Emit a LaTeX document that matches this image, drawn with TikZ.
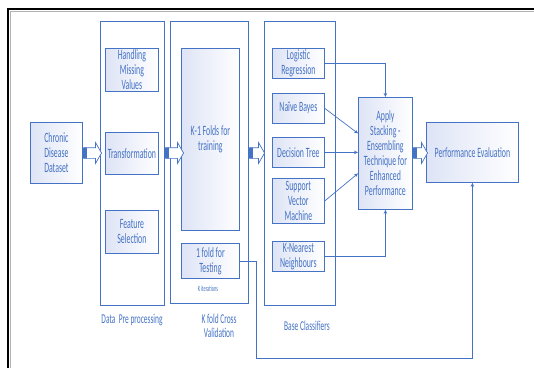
\documentclass[tikz,border=0pt]{standalone}
\usepackage{fontspec}
\setmainfont{Carlito}[FakeStretch=0.55]
\usetikzlibrary{positioning,shapes.arrows,arrows.meta}
\definecolor{officeblue}{RGB}{68,114,196}
\definecolor{boxshade}{RGB}{222,228,246}

\begin{document}
\begin{tikzpicture}[x=1pt,y=-1pt,
  every node/.style={font=\fontsize{14.2}{15}\selectfont,text=officeblue,align=center},
  wh/.style 2 args={minimum width=#1pt,minimum height=#2pt},
  panel/.style={draw=officeblue,line width=0.8pt,fill=white,anchor=north west,inner sep=0pt},
  box/.style={draw=officeblue,line width=0.8pt,left color=boxshade,right color=white,anchor=north west,inner sep=1pt},
  caption/.style={font=\fontsize{13.5}{14.5}\selectfont},
  blockarrow/.style={single arrow,draw=officeblue,fill=white,line width=0.7pt,inner sep=5pt,
    single arrow head extend=5pt,single arrow tip angle=120,
    path picture={\fill[officeblue] (path picture bounding box.south west) rectangle ([xshift=3pt]path picture bounding box.north west);}},
  link/.style={draw=officeblue,line width=0.7pt,-{Stealth[length=4pt,width=3.5pt]}}
]
  \useasboundingbox (0,0) rectangle (534,367);
  % page frame
  \draw[line width=2pt] (8,375) -- (8,9) -- (540,9);
  \draw[gray!60,line width=0.6pt] (10.5,375) -- (10.5,11.5) -- (540,11.5);

  % input
  \node[box,wh={52}{61}] (data) at (30,122) {Chronic\\Disease\\Dataset};

  % pre processing
  \node[panel,wh={64}{284}] (prep) at (100,21) {};
  \node[box,wh={53}{43}] (missing) at (105,48) {Handling\\Missing\\Values};
  \node[box,wh={53}{42}] (transf) at (105,132) {Transformation};
  \node[box,wh={53}{43}] (feat) at (105,210) {Feature\\Selection};
  \node[caption] (preplbl) at (132,320) {Data\ \ Pre processing};

  % cross validation
  \node[panel,wh={78}{282}] (cv) at (170,21) {};
  \node[box,wh={58}{182}] (train) at (181,48) {K-1 Folds for\\training};
  \node[box,wh={58}{35}] (test) at (181,243) {1 fold for\\Testing};
  \node[font=\fontsize{8}{9}\selectfont] (kiter) at (208,289) {K iterations};
  \node[caption] (cvlbl) at (219,326) {K fold Cross\\Validation};

  % base classifiers
  \node[panel,wh={71}{284}] (base) at (264,21) {};
  \node[box,wh={52}{30}] (lr) at (272,48) {Logistic\\Regression};
  \node[box,wh={52}{30}] (nb) at (272,93) {Naïve Bayes};
  \node[box,wh={52}{30}] (dt) at (272,137) {Decision Tree};
  \node[box,wh={52}{45}] (svm) at (272,178) {Support\\Vector\\Machine};
  \node[box,wh={52}{30}] (knn) at (272,241) {K-Nearest\\Neighbours};
  \node[caption] (baselbl) at (307,326) {Base Classifiers};

  % ensemble and evaluation
  \node[box,wh={54}{112}] (stack) at (358,97) {Apply\\Stacking -\\Ensembling\\Technique for\\Enhanced\\Performance};
  \node[box,wh={92}{60}] (perf) at (426,122) {Performance Evaluation};

  % block arrows between stages
  \node[blockarrow,minimum height=18pt] (a1) at (91,153) {};
  \node[blockarrow,minimum height=18pt] (a2) at (173,153) {};
  \node[blockarrow,minimum height=15pt] (a3) at (255.5,153) {};
  \node[blockarrow,minimum height=14pt] (a4) at (419,153) {};

  % classifier outputs
  \draw[link] (lr.east) -| (stack.north);
  \draw[link] (nb.east) -- ([yshift=20pt]stack.west);
  \draw[link] (dt.east) -- (dt.east -| stack.west);
  \draw[link] (svm.east) -- ([yshift=-20pt]stack.west);
  \draw[link] (knn.east) -| (stack.south);

  % test fold to evaluation
  \coordinate (loop) at (256,358);
  \draw[link] (test.east) -| (loop) -| (perf.south);
\end{tikzpicture}
\end{document}
